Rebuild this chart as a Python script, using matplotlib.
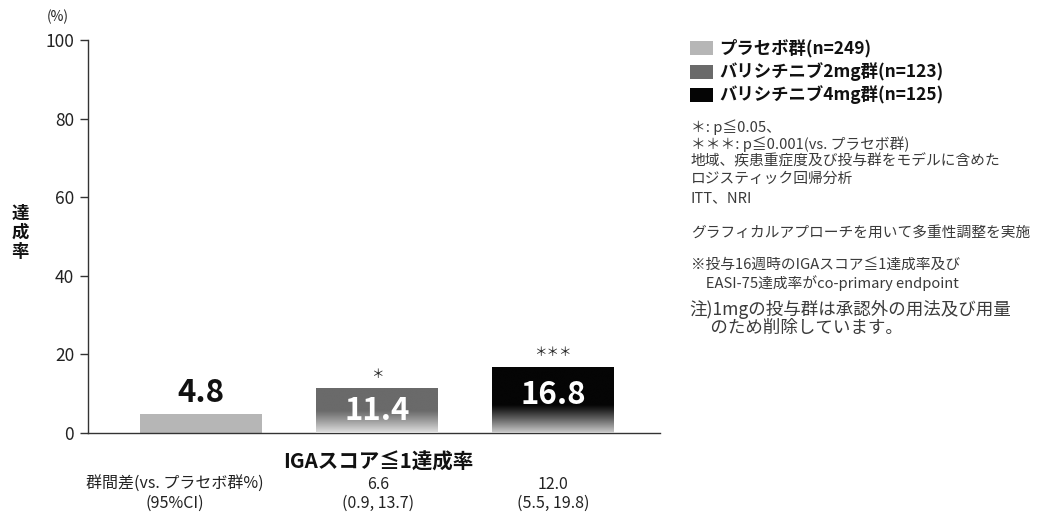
import numpy as np
import matplotlib
matplotlib.use("Agg")
import matplotlib.pyplot as plt
from matplotlib.patches import Rectangle

plt.rcParams['font.family'] = ['Noto Sans CJK JP', 'DejaVu Sans']

groups = ["プラセボ群(n=249)", "バリシチニブ2mg群(n=123)", "バリシチニブ4mg群(n=125)"]
values = [4.8, 11.4, 16.8]
colors = ["#b6b6b6", "#6a6a6a", "#050505"]
sig = ["", "＊", "＊＊＊"]
diff_labels = ["群間差(vs. プラセボ群%)\n(95%CI)", "6.6\n(0.9, 13.7)", "12.0\n(5.5, 19.8)"]
yticks = [0, 20, 40, 60, 80, 100]
xlabel = "IGAスコア≦1達成率"
notes = ["＊: p≦0.05、", "＊＊＊: p≦0.001(vs. プラセボ群)", "地域、疾患重症度及び投与群をモデルに含めた",
         "ロジスティック回帰分析", "ITT、NRI"]
note2 = "グラフィカルアプローチを用いて多重性調整を実施"
note3 = ["※投与16週時のIGAスコア≦1達成率及び", "　EASI-75達成率がco-primary endpoint"]
note4 = ["注)1mgの投与群は承認外の用法及び用量", "　 のため削除しています。"]

W, H = 1037, 515
fig = plt.figure(figsize=(W / 100, H / 100), dpi=100)
ax_l, ax_r, ax_t, ax_b = 88, 660, 40, 433
ax = fig.add_axes([ax_l / W, (H - ax_b) / H, (ax_r - ax_l) / W, (ax_b - ax_t) / H])

xpos = np.arange(len(values))
XL = (-0.642, 2.608)
width = 0.693

for i, (v, c) in enumerate(zip(values, colors)):
    bars = ax.bar(xpos[i], v, width=width, color=c, zorder=2)
    rect = bars[0]
    if i > 0:
        base = np.array(matplotlib.colors.to_rgb(c))
        n = 200
        t = np.linspace(0, 1, n)  # 0 bottom -> 1 top
        start = 0.42 if i == 2 else 0.5
        fade = np.clip((start - t) / start, 0, 1) ** 1.1 * 0.8
        img = base[None, :] * (1 - fade[:, None]) + np.array([1, 1, 1])[None, :] * fade[:, None]
        img = img[:, None, :]
        im = ax.imshow(img, extent=[xpos[i] - width / 2, xpos[i] + width / 2, 0, v],
                       origin='lower', aspect='auto', zorder=3, interpolation='bilinear')
        im.set_clip_path(rect)

ax.set_xlim(*XL)
ax.set_ylim(0, 100)

# value labels
lab_y = [10.2, 5.6, 9.7]
ax.text(xpos[0], lab_y[0], f"{values[0]}", ha='center', va='center',
        fontsize=22.5, fontweight='bold', color='#111111', zorder=5)
for i in (1, 2):
    ax.text(xpos[i], lab_y[i], f"{values[i]}", ha='center', va='center',
            fontsize=22.5, fontweight='bold', color='white', zorder=5)
for i in (1, 2):
    ax.text(xpos[i], values[i] + 3.6, sig[i], ha='center', va='center',
            fontsize=9, color='#222222', zorder=5)

for s in ['top', 'right']:
    ax.spines[s].set_visible(False)
ax.spines['left'].set_color('#333333')
ax.spines['bottom'].set_color('#333333')
ax.spines['left'].set_linewidth(1.0)
ax.spines['bottom'].set_linewidth(1.0)
ax.set_yticks(yticks)
ax.set_yticklabels([str(y) for y in yticks], fontsize=12.5, color='#222222')
ax.tick_params(axis='y', length=6, width=1.0, color='#333333', pad=4)
ax.set_xticks([])

fig.text(58 / W, 1 - 17 / H, "(%)", ha='center', va='center', fontsize=10, color='#222222')
fig.text(20 / W, 1 - 233 / H, "達\n成\n率", ha='center', va='center', fontsize=12.5,
         fontweight='bold', color='#111111', linespacing=1.05)

fig.text(378 / W, 1 - 462 / H, xlabel, ha='center', va='center', fontsize=14.8,
         fontweight='bold', color='#111111')
xc = [175, 378, 553]
for x, lab in zip(xc, diff_labels):
    fig.text(x / W, 1 - 494 / H, lab, ha='center', va='center', fontsize=11.5,
             color='#222222', linespacing=1.15)

# legend
leg_y = [48, 72, 95]
for y, g, c in zip(leg_y, groups, colors):
    fig.patches.append(Rectangle((690 / W, 1 - (y + 7) / H), 23 / W, 14 / H,
                                 transform=fig.transFigure, facecolor=c, edgecolor='none'))
    fig.text(719 / W, 1 - y / H, g, ha='left', va='center', fontsize=12.5,
             fontweight='bold', color='#111111')

ny = [127, 144, 161, 179, 198]
for y, t in zip(ny, notes):
    fig.text(691 / W, 1 - y / H, t, ha='left', va='center', fontsize=10.6, color='#3a3a3a')
fig.text(691 / W, 1 - 233 / H, note2, ha='left', va='center', fontsize=10.6, color='#3a3a3a')
for y, t in zip([265, 283], note3):
    fig.text(691 / W, 1 - y / H, t, ha='left', va='center', fontsize=10.6, color='#3a3a3a')
for y, t in zip([309, 328], note4):
    fig.text(689 / W, 1 - y / H, t, ha='left', va='center', fontsize=12.6, color='#3a3a3a')

fig.savefig("out.png", dpi=100, facecolor='white')
